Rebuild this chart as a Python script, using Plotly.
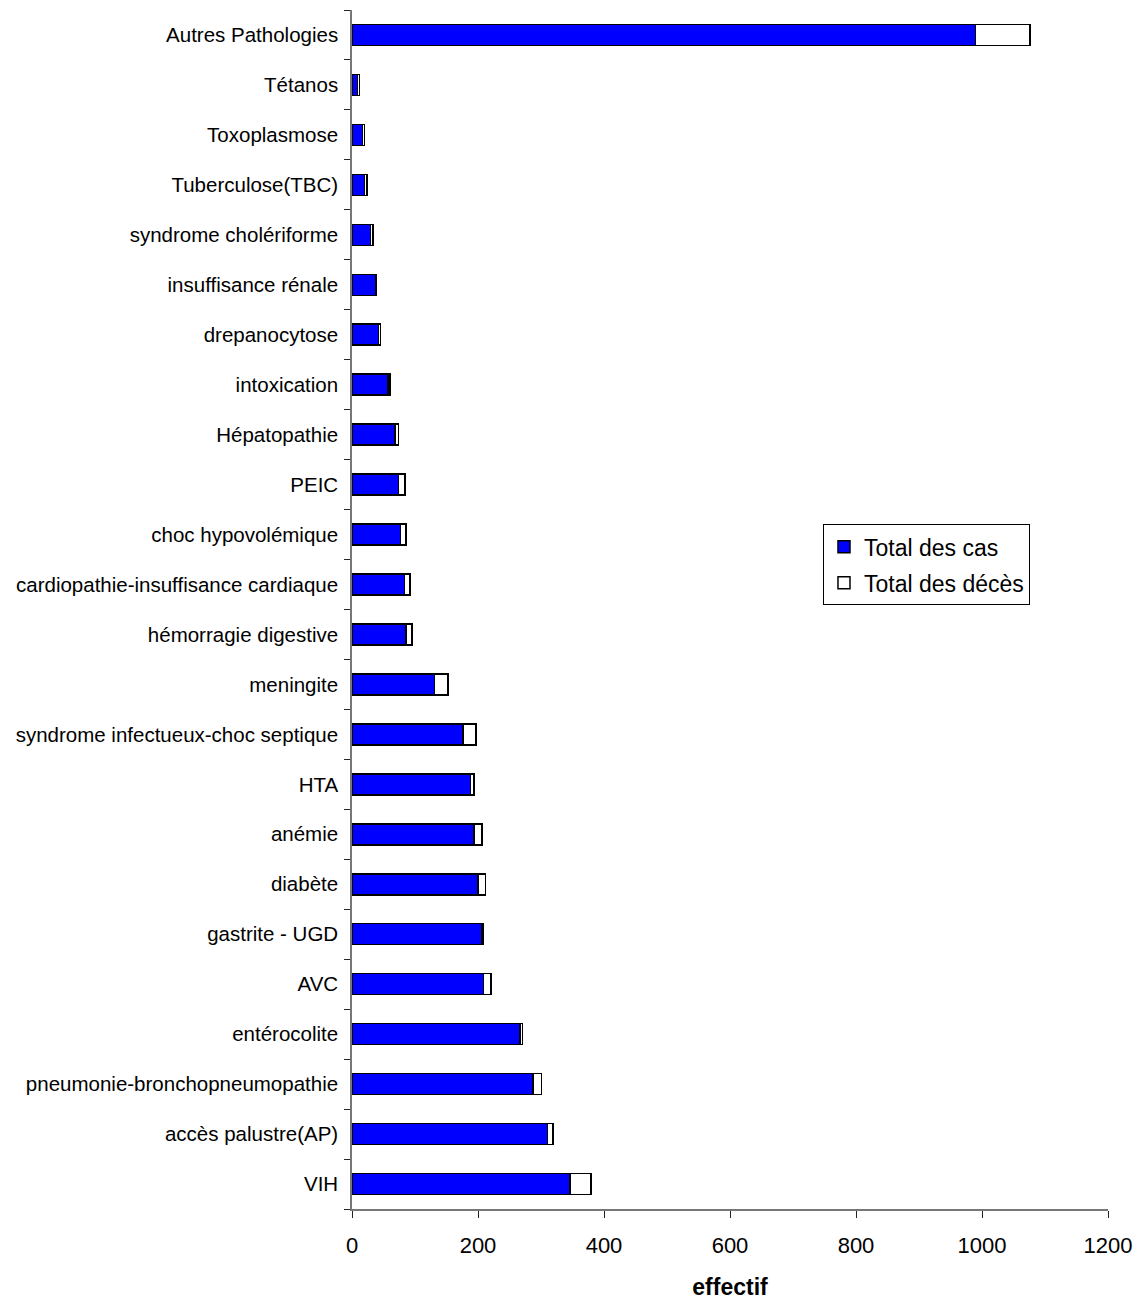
import plotly.graph_objects as go

categories = ["VIH", "accès palustre(AP)", "pneumonie-bronchopneumopathie", "entérocolite",
              "AVC", "gastrite - UGD", "diabète", "anémie", "HTA",
              "syndrome infectueux-choc septique", "meningite", "hémorragie digestive",
              "cardiopathie-insuffisance cardiaque", "choc hypovolémique", "PEIC",
              "Hépatopathie", "intoxication", "drepanocytose", "insuffisance rénale",
              "syndrome cholériforme", "Tuberculose(TBC)", "Toxoplasmose", "Tétanos",
              "Autres Pathologies"]
total_cas = [346, 310, 287, 267, 209, 206, 200, 194, 188, 176, 131, 86, 83, 77, 74, 68,
             57, 42, 38, 29, 20, 17, 9, 990]
total_deces = [33, 9, 14, 4, 12, 3, 12, 12, 6, 21, 21, 9, 9, 9, 10, 6, 3, 3, 1, 4, 4, 3, 3, 86]

font_family = "Liberation Sans, Arial, sans-serif"

fig = go.Figure()
fig.add_trace(go.Bar(y=categories, x=total_cas, orientation="h", name="Total des cas",
                     legendgroup="a",
                     marker=dict(color="#0000FF", line=dict(color="black", width=1.5)),
                     width=0.42))
fig.add_trace(go.Bar(y=categories, x=total_deces, orientation="h", name="Total des décès",
                     legendgroup="b",
                     marker=dict(color="white", line=dict(color="black", width=1.5)),
                     width=0.42))

fig.update_layout(
    barmode="stack",
    width=1143, height=1300,
    margin=dict(l=352, r=35, t=10, b=91, autoexpand=False),
    plot_bgcolor="white", paper_bgcolor="white",
    font=dict(family=font_family, color="black", size=20),
    legend=dict(x=0.623, y=0.571, xanchor="left", yanchor="top",
                bordercolor="black", borderwidth=1, bgcolor="white",
                font=dict(size=23), traceorder="grouped", tracegroupgap=3),
    xaxis=dict(range=[0, 1200], tickvals=[0, 200, 400, 600, 800, 1000, 1200],
               ticks="outside", ticklen=7, tickcolor="#222", showline=True,
               linecolor="#777", linewidth=1.5, showgrid=False, zeroline=False,
               tickfont=dict(size=22), ticklabelstandoff=9, automargin=False,
               title=dict(text="<b>effectif</b>", font=dict(size=23), standoff=28)),
    yaxis=dict(type="category", categoryorder="array", categoryarray=categories,
               tickson="boundaries", ticks="outside", ticklen=6, tickcolor="#222",
               showline=True, linecolor="#777", linewidth=1.5, showgrid=False,
               tickfont=dict(size=20.5), ticklabelstandoff=8, automargin=False,
               range=[-0.5, len(categories) - 0.5]),
)

fig.write_html("out.html")
